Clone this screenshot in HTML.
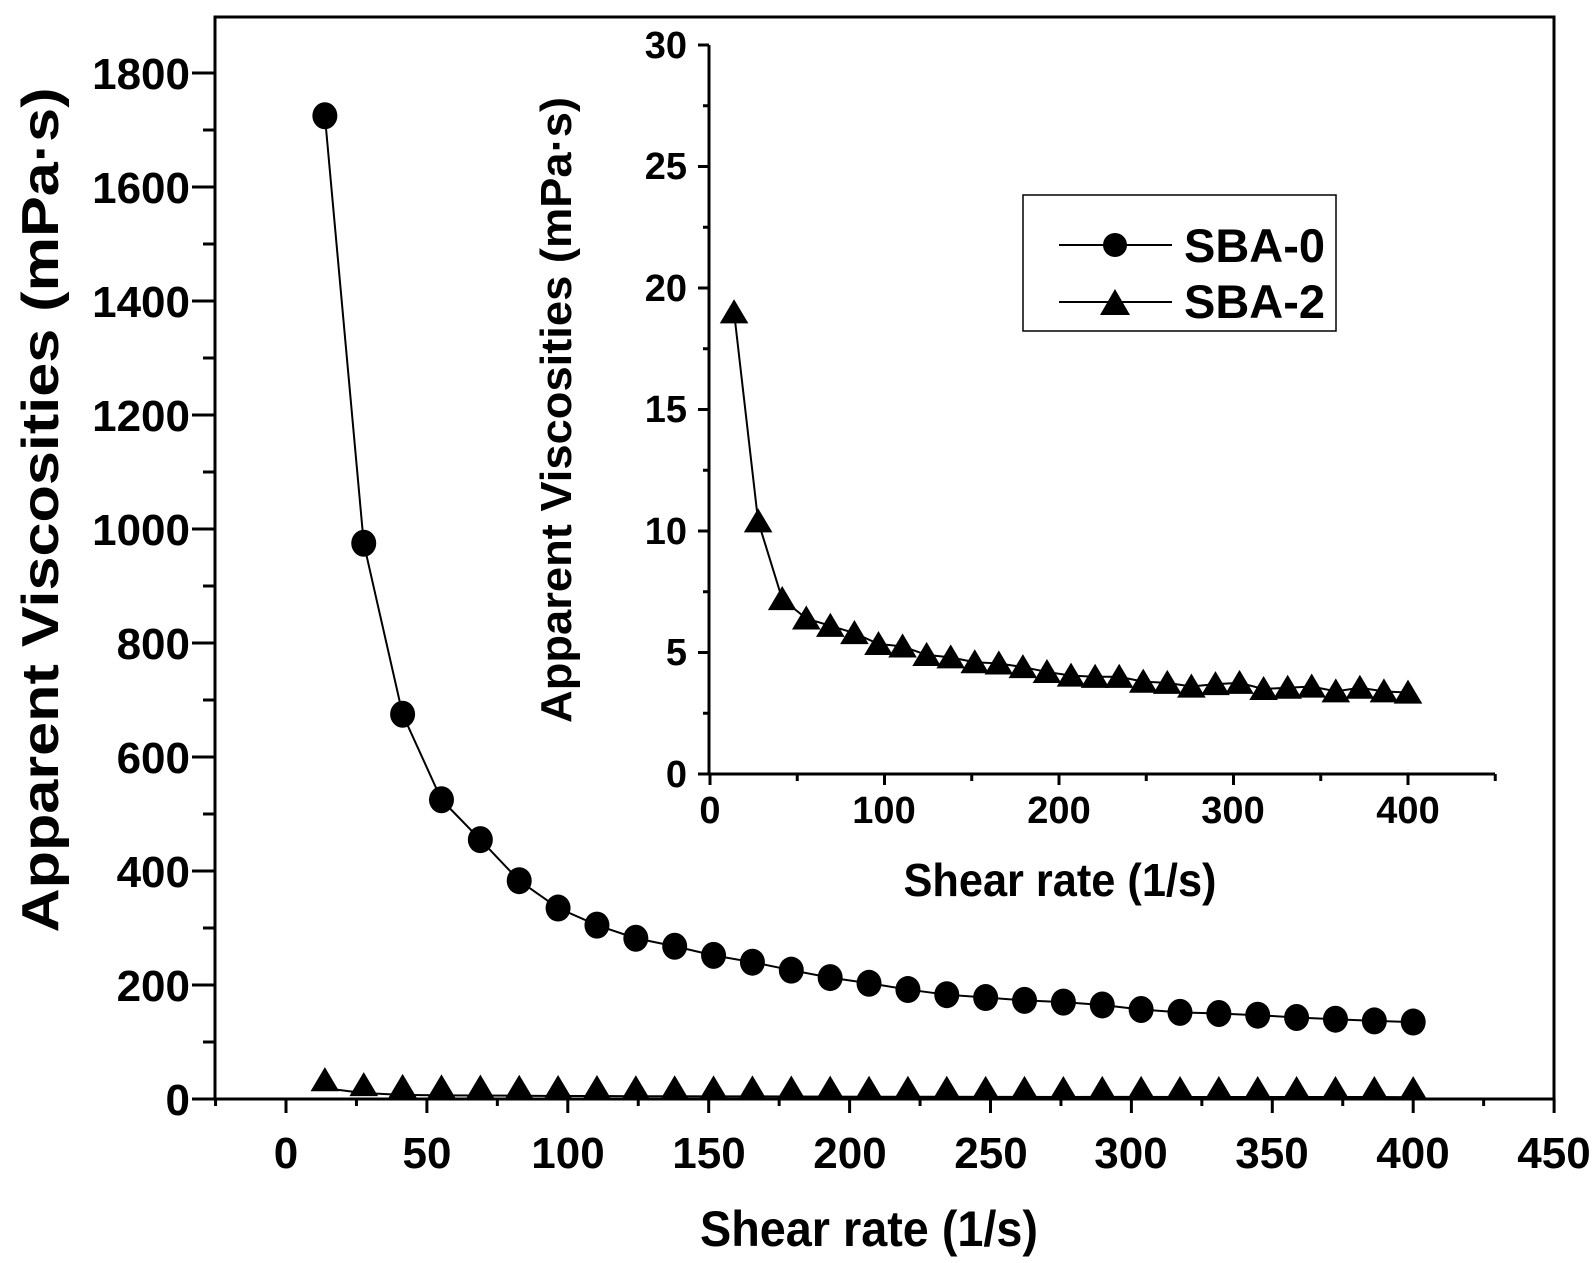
<!DOCTYPE html>
<html><head><meta charset="utf-8"><style>
body{margin:0;background:#fff}
text{font-family:"Liberation Sans",Arial,sans-serif;font-weight:bold;fill:#000}
</style></head><body>
<svg id="s" width="1596" height="1258" viewBox="0 0 1596 1258" xmlns="http://www.w3.org/2000/svg">
<g stroke="#000" stroke-width="3" fill="none">
<rect x="215" y="17" width="1339" height="1082"/>
<line x1="194" y1="1099" x2="1554" y2="1099"/>
<line x1="709" y1="45" x2="709" y2="774"/>
<line x1="700" y1="774" x2="1495" y2="774"/>
</g>
<g id="ticks" stroke="#000" stroke-width="3"></g>
<g font-size="44" text-anchor="end">
<text x="190" y="1115">0</text><text x="190" y="1001">200</text><text x="190" y="887">400</text>
<text x="190" y="773">600</text><text x="190" y="659">800</text><text x="190" y="545">1000</text>
<text x="190" y="431">1200</text><text x="190" y="317">1400</text><text x="190" y="203">1600</text>
<text x="190" y="89">1800</text>
</g>
<g font-size="44" text-anchor="middle">
<text x="286" y="1168">0</text><text x="427" y="1168">50</text><text x="568" y="1168">100</text>
<text x="709" y="1168">150</text><text x="850" y="1168">200</text><text x="991" y="1168">250</text>
<text x="1131" y="1168">300</text><text x="1272" y="1168">350</text><text x="1413" y="1168">400</text>
<text x="1554" y="1168">450</text>
</g>
<g font-size="38" text-anchor="end">
<text x="687" y="787">0</text><text x="687" y="665">5</text><text x="687" y="544">10</text>
<text x="687" y="422">15</text><text x="687" y="301">20</text><text x="687" y="179">25</text>
<text x="687" y="58">30</text>
</g>
<g font-size="38" text-anchor="middle">
<text x="710" y="823">0</text><text x="884" y="823">100</text><text x="1059" y="823">200</text>
<text x="1233" y="823">300</text><text x="1408" y="823">400</text>
</g>
<text font-size="50" text-anchor="middle" x="869" y="1246" textLength="338" lengthAdjust="spacingAndGlyphs">Shear rate (1/s)</text>
<text font-size="46" text-anchor="middle" x="1060" y="896" textLength="313" lengthAdjust="spacingAndGlyphs">Shear rate (1/s)</text>
<text font-size="52" text-anchor="middle" transform="translate(58,510) rotate(-90)" textLength="845" lengthAdjust="spacingAndGlyphs">Apparent Viscosities (mPa·s)</text>
<text font-size="44" text-anchor="middle" transform="translate(571,410) rotate(-90)" textLength="626" lengthAdjust="spacingAndGlyphs">Apparent Viscosities (mPa·s)</text>
<rect x="1023" y="195" width="313" height="136" fill="none" stroke="#000" stroke-width="1.5"/>
<line x1="1059" y1="245" x2="1172" y2="245" stroke="#000" stroke-width="2"/>
<circle cx="1115" cy="245" r="12"/>
<line x1="1059" y1="302" x2="1172" y2="302" stroke="#000" stroke-width="2"/>
<polygon points="1115,289 1130,315 1100,315"/>
<text font-size="47" x="1184" y="262">SBA-0</text>
<text font-size="47" x="1184" y="318">SBA-2</text>
<g id="data"></g>
</svg>
<script>
var NS="http://www.w3.org/2000/svg",t=document.getElementById('ticks'),d=document.getElementById('data');
function L(g,a,b,c,e,w){var l=document.createElementNS(NS,'line');l.setAttribute('x1',a);l.setAttribute('y1',b);l.setAttribute('x2',c);l.setAttribute('y2',e);l.setAttribute('stroke','#000');l.setAttribute('stroke-width',w||3);g.appendChild(l);}
for(var v=0;v<=1800;v+=100){var y=1099-v*0.57;L(t,v%200?203:192,y,215,y);}
for(var v=-25;v<=450;v+=25){var x=286+v*2.818;L(t,x,1099,x,v%50?1106:1113);}
for(var v=0;v<=30;v+=2.5){var y=774-v*24.3;L(t,v%5?703:698,y,709,y);}
for(var v=0;v<=450;v+=50){var x=710+v*1.745;L(t,x,774,x,v%100?781:785);}
var a=[1725,975,675,525,455,383,335,305,282,268,252,240,226,213,203,192,183,178,173,170,165,157,152,150,147,143,140,137,135];
var b=[19,10.4,7.2,6.4,6.1,5.8,5.35,5.25,4.9,4.8,4.6,4.55,4.4,4.2,4.05,4.0,4.0,3.8,3.75,3.6,3.7,3.75,3.5,3.55,3.6,3.4,3.55,3.4,3.35];
function P(pts){var p=document.createElementNS(NS,'polyline');p.setAttribute('points',pts.join(' '));p.setAttribute('fill','none');p.setAttribute('stroke','#000');p.setAttribute('stroke-width',2);d.appendChild(p);}
function T(x,y,s){var p=document.createElementNS(NS,'polygon');p.setAttribute('points',x+','+(y-s)+' '+(x+s*1.1)+','+(y+s*0.85)+' '+(x-s*1.1)+','+(y+s*0.85));d.appendChild(p);}
var p1=[],p2=[],p3=[];
for(var k=0;k<29;k++){var xv=(k+1)*400/29;
p1.push((286+xv*2.818)+','+(1099-a[k]*0.57));
p2.push((286+xv*2.818)+','+(1099-b[k]*0.57));
p3.push((710+xv*1.745)+','+(774-b[k]*24.3));}
P(p1);P(p2);P(p3);
for(var k=0;k<29;k++){var xv=(k+1)*400/29;
var c=document.createElementNS(NS,'ellipse');c.setAttribute('cx',286+xv*2.818);c.setAttribute('cy',1099-a[k]*0.57);c.setAttribute('rx',12.5);c.setAttribute('ry',13.5);d.appendChild(c);
T(286+xv*2.818,1099-b[k]*0.57-8,13);
T(710+xv*1.745,774-b[k]*24.3,13);}
</script>
</body></html>
